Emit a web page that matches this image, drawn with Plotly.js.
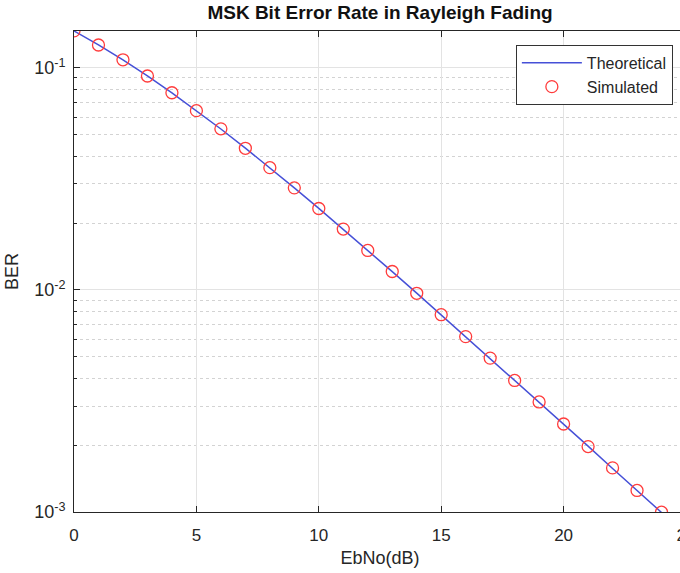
<!DOCTYPE html>
<html>
<head>
<meta charset="utf-8">
<script src="https://cdn.plot.ly/plotly-3.0.1.min.js"></script>
<style>
html,body{margin:0;padding:0;overflow:hidden;background:#fff;}
#chart{width:720px;height:573px;}
</style>
</head>
<body>
<div id="chart"></div>
<script>
var ebno = [0,1,2,3,4,5,6,7,8,9,10,11,12,13,14,15,16,17,18,19,20,21,22,23,24];
var berTheory = [0.14645,0.12673,0.10848,0.09192,0.07713,0.06418,0.05300,0.04347,0.03546,0.02878,
  0.02327,0.01875,0.01507,0.01208,0.00967,0.00772,0.00617,0.00492,0.00392,0.00312,
  0.00248,0.00198,0.00157,0.00125,0.000995];
var berSim = [0.1466,0.1266,0.1086,0.0918,0.0772,0.0641,0.0531,0.0434,0.0355,0.0288,
  0.02325,0.01878,0.01505,0.01210,0.00965,0.00773,0.00616,0.00493,0.00391,0.00313,
  0.00249,0.00197,0.00158,0.00125,0.000998];
var xTicks = [0,5,10,15,20,25];
var yTicks = [0.001,0.01,0.1];
var yTickText = ['10<sup>-3</sup>','10<sup>-2</sup>','10<sup>-1</sup>'];
var yMinorTicks = [0.002,0.003,0.004,0.005,0.006,0.007,0.008,0.009,
  0.02,0.03,0.04,0.05,0.06,0.07,0.08,0.09];

var traces = [
  {x: ebno, y: berTheory, type:'scatter', mode:'lines', name:'Theoretical',
   line:{color:'rgb(70,80,215)', width:1.5}},
  {x: ebno, y: berSim, type:'scatter', mode:'markers', name:'Simulated',
   marker:{symbol:'circle-open', size:12, color:'rgb(255,60,60)', line:{width:1.3, color:'rgb(255,60,60)'}}}
];

var axisCol = '#262626';
var layout = {
  width:720, height:573,
  margin:{l:74, r:34, t:31, b:61},
  paper_bgcolor:'#fff', plot_bgcolor:'#fff',
  font:{family:'Liberation Sans, Arial, sans-serif', color:axisCol, size:17},
  title:{text:'<b>MSK Bit Error Rate in Rayleigh Fading</b>', x:0.5, xanchor:'center', xref:'paper',
    yref:'container', y:0.978, yanchor:'middle', font:{size:19, color:'#111'}},
  showlegend:true,
  legend:{x:0.722, y:0.971, xanchor:'left', yanchor:'top', bgcolor:'#fff', bordercolor:'#333', borderwidth:1,
    font:{size:16, color:axisCol}, itemwidth:60, tracegroupgap:0},
  xaxis:{range:[0,25], tickvals:xTicks, ticks:'inside', ticklen:6, tickcolor:axisCol, tickfont:{size:17},
    ticklabelstandoff:8,
    showline:true, linecolor:axisCol, linewidth:1, mirror:'ticks',
    showgrid:true, gridcolor:'#e3e3e3', gridwidth:1, zeroline:false,
    title:{text:'EbNo(dB)', font:{size:18}, standoff:6}},
  yaxis:{type:'log', range:[-3, Math.log10(0.1464)], tickvals:yTicks, ticktext:yTickText,
    ticks:'inside', ticklen:6, tickcolor:axisCol, tickfont:{size:18},
    ticklabelstandoff:4,
    showline:true, linecolor:axisCol, linewidth:1, mirror:'ticks',
    showgrid:true, gridcolor:'#e3e3e3', gridwidth:1, zeroline:false,
    minor:{tickmode:'array', tickvals:yMinorTicks, ticks:'inside', ticklen:3, tickcolor:axisCol,
      showgrid:true, gridcolor:'#d3d3d3', griddash:'dot', gridwidth:1},
    title:{text:'BER', font:{size:18}, standoff:10}}
};
Plotly.newPlot('chart', traces, layout, {displayModeBar:false, staticPlot:true});
</script>
</body>
</html>
